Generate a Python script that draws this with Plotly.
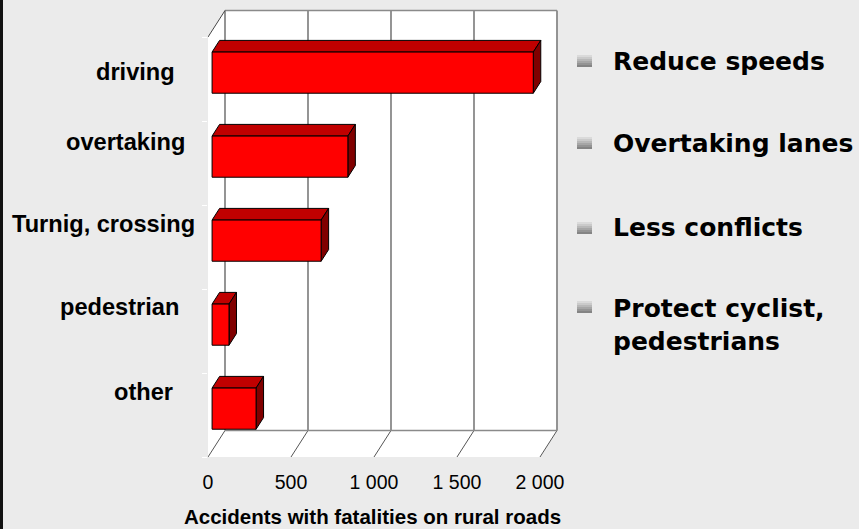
import plotly.graph_objects as go

# ---------------- data ----------------
categories = ["driving", "overtaking", "Turnig, crossing", "pedestrian", "other"]
values = [1935, 818, 657, 102, 265]
tick_values = [0, 500, 1000, 1500, 2000]
tick_labels = ["0", "500", "1 000", "1 500", "2 000"]
x_title = "Accidents with fatalities on rural roads"
bullet_texts = ["Reduce speeds", "Overtaking lanes", "Less conflicts", "Protect cyclist,<br>pedestrians"]

# ---------------- layout constants (pixels) ----------------
W, H = 859, 529
ML, MR, MT, MB = 208, 299, 8, 72
PW, PH = W - ML - MR, H - MT - MB
PX_PER_UNIT = 0.166          # front plane x scale
PX_PER_CAT = 84.0            # front plane category band
X_RANGE = [0, PW / PX_PER_UNIT]
Y_RANGE = [0, PH / PX_PER_CAT]
DX = 17 / PX_PER_UNIT        # depth vector in data units
DY = 26.5 / PX_PER_CAT
F1, F2 = 0.24, 0.68          # bar front/back depth fractions
HALF_H = 0.245
XMAX = tick_values[-1]
N = len(categories)

label_right_px = [177, 187, 197, 181, 175]
label_shift_px = [7, 21, 23, 24, 23]
bullet_center_px = [61, 143, 228, 307]
text_center_px = [62, 143, 228, 325]

FONT = "Arial, Liberation Sans, sans-serif"


def pxx(px):
    return (px - ML) / PW


def pxy(py):
    return (H - MB - py) / PH


fig = go.Figure()


def poly(xs, ys, fill, line_color="black", width=1):
    fig.add_trace(go.Scatter(
        x=xs + [xs[0]], y=ys + [ys[0]], mode="lines", fill="toself",
        fillcolor=fill, line=dict(color=line_color, width=width),
        hoverinfo="skip", showlegend=False))


def seg(x0, y0, x1, y1, color, width):
    fig.add_trace(go.Scatter(
        x=[x0, x1], y=[y0, y1], mode="lines",
        line=dict(color=color, width=width),
        hoverinfo="skip", showlegend=False))


# white walls (side wall + back wall + floor)
poly([0, 0, DX, XMAX + DX, XMAX + DX, XMAX],
     [0, N, N + DY, N + DY, DY, 0], "white", line_color="white", width=1)

# back wall gridlines and edges
for t in tick_values:
    seg(t + DX, DY, t + DX, N + DY, "#7a7a7a", 1.6)
    seg(t, 0, t + DX, DY, "#555555", 1)
seg(DX, N + DY, XMAX + DX, N + DY, "#8a8a8a", 1.6)
seg(DX, DY, XMAX + DX, DY, "#8a8a8a", 1.6)
seg(0, N, DX, N + DY, "#444444", 1)

# 3D bars
for i, v in enumerate(values):
    yc = (N - 1 - i) + 0.5
    x0 = F1 * DX
    x1 = v + F1 * DX
    y0 = yc - HALF_H + F1 * DY
    y1 = yc + HALF_H + F1 * DY
    ddx = (F2 - F1) * DX
    ddy = (F2 - F1) * DY
    # top face
    poly([x0, x1, x1 + ddx, x0 + ddx], [y1, y1, y1 + ddy, y1 + ddy], "#c00000")
    # right face
    poly([x1, x1 + ddx, x1 + ddx, x1], [y0, y0 + ddy, y1 + ddy, y1], "#800000")
    # front face
    poly([x0, x1, x1, x0], [y0, y0, y1, y1], "#ff0000")

annotations = []
# category labels
for i, c in enumerate(categories):
    annotations.append(dict(
        text="<b>%s</b>" % c, xref="paper", yref="y",
        x=pxx(label_right_px[i]), y=(N - 1 - i) + 0.5, yshift=label_shift_px[i],
        xanchor="right", yanchor="middle", showarrow=False,
        font=dict(family=FONT, size=23.6, color="black")))

# x axis title (centred like the reference)
annotations.append(dict(
    text="<b>%s</b>" % x_title, xref="paper", yref="paper",
    x=pxx(372), y=pxy(516), xanchor="center", yanchor="middle", showarrow=False,
    font=dict(family=FONT, size=20.5, color="black")))

# bullet texts
for i, t in enumerate(bullet_texts):
    annotations.append(dict(
        text="<b>%s</b>" % t, xref="paper", yref="paper",
        x=pxx(611), y=pxy(text_center_px[i]), xanchor="left", yanchor="middle",
        align="left", showarrow=False,
        font=dict(family="Century Gothic, DejaVu Sans, sans-serif", size=25, color="black")))

shapes = []
# left dark border
shapes.append(dict(type="rect", xref="paper", yref="paper",
                   x0=pxx(0), x1=pxx(3), y0=pxy(H), y1=pxy(0),
                   fillcolor="#111111", line=dict(width=0), layer="above"))
# gradient bullets (stacked stripes)
grad = ["#dadada", "#cacaca", "#b8b8b8", "#a6a6a6", "#949494", "#848484"]
for cy in bullet_center_px:
    top = cy - 6
    sh = 12 / len(grad)
    for k, col in enumerate(grad):
        shapes.append(dict(type="rect", xref="paper", yref="paper",
                           x0=pxx(577), x1=pxx(592),
                           y0=pxy(top + (k + 1) * sh), y1=pxy(top + k * sh),
                           fillcolor=col, line=dict(width=0)))

fig.update_layout(
    width=W, height=H,
    margin=dict(l=ML, r=MR, t=MT, b=MB),
    paper_bgcolor="#ebebeb", plot_bgcolor="rgba(0,0,0,0)",
    showlegend=False,
    xaxis=dict(range=X_RANGE, tickvals=tick_values, ticktext=tick_labels,
               showgrid=False, zeroline=False, showline=False, ticks="",
               ticklabelstandoff=11,
               tickfont=dict(family=FONT, size=19.5, color="black"),
               fixedrange=True),
    yaxis=dict(range=Y_RANGE, tickvals=list(range(N + 1)), showticklabels=False,
               ticks="outside", ticklen=5, tickcolor="white",
               showgrid=False, zeroline=False, showline=False, fixedrange=True),
    annotations=annotations,
    shapes=shapes,
)

fig.write_html("out.html")
